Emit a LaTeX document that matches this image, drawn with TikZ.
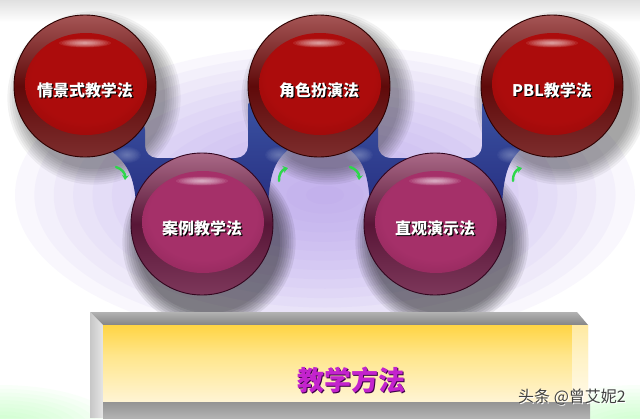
\documentclass[tikz,border=0pt]{standalone}
\usepackage{fontspec}
\newfontfamily\cjk{Noto Sans CJK SC}
\usetikzlibrary{arrows.meta}
\definecolor{rTop}{RGB}{165,85,85}
\definecolor{rMid}{RGB}{95,10,10}
\definecolor{rBot}{RGB}{125,45,45}
\definecolor{rIn}{RGB}{172,12,12}
\definecolor{rInO}{RGB}{128,6,6}
\definecolor{rRim}{RGB}{45,0,0}
\definecolor{pTop}{RGB}{170,105,135}
\definecolor{pMid}{RGB}{88,22,55}
\definecolor{pBot}{RGB}{125,55,90}
\definecolor{pIn}{RGB}{165,48,105}
\definecolor{pInO}{RGB}{122,30,75}
\definecolor{pRim}{RGB}{50,5,30}
\definecolor{blueL}{RGB}{58,82,162}
\definecolor{blueD}{RGB}{40,48,130}
\definecolor{lav}{RGB}{175,150,235}
\definecolor{arrowgreen}{RGB}{45,215,75}
\definecolor{ylwA}{RGB}{255,198,20}
\definecolor{ylwB}{RGB}{255,208,50}
\definecolor{ylwC}{RGB}{255,230,140}
\definecolor{creamA}{RGB}{255,246,220}
\definecolor{creamB}{RGB}{255,252,242}
\definecolor{titlemag}{RGB}{195,35,205}
\definecolor{titlesh}{RGB}{60,0,70}
\pgfdeclareradialshading{rinner}{\pgfpoint{0bp}{6bp}}{color(0bp)=(rIn); color(22bp)=(rIn); color(44bp)=(rInO); color(50bp)=(rInO)}
\pgfdeclareradialshading{pinner}{\pgfpoint{0bp}{6bp}}{color(0bp)=(pIn); color(22bp)=(pIn); color(44bp)=(pInO); color(50bp)=(pInO)}
\pgfdeclareverticalshading{barfront}{100bp}{color(0bp)=(creamB); color(22bp)=(creamA); color(55bp)=(ylwC); color(80bp)=(ylwB); color(100bp)=(ylwA)}
\tikzset{
  balltext/.style={font=\cjk\bfseries\fontsize{16}{16}\selectfont, inner sep=0pt},
  garrow/.style={draw=arrowgreen, line width=2.4pt, line cap=round, -{Stealth[length=5pt,width=7pt]}},
}
% soft blob made of stacked translucent ellipses: colour, x, y, rx, ry, opacity per layer, layers
\newcommand\softblob[7]{%
  \foreach \k in {1,...,#7}{\fill[#1,opacity=#6] (#2,#3) ellipse ({#4*\k/#7} and {#5*\k/#7});}}
% shadow: x, y, dx, dy, opacity per layer
\newcommand\ballshadow[5]{%
  \foreach \k in {1,...,8}{\fill[black,opacity=#5] (#1+#3,#2+#4) circle ({69+2.2*\k});}}
\newcommand\glossball[5]{%
  \node[circle,minimum size=142pt,inner sep=0pt] (#1) at (#2,#3) {};
  \shade[top color=#4Top, bottom color=#4Bot, middle color=#4Mid] (#1.center) circle (71);
  \shade[shading=#4inner] (#2+1,#3-2) ellipse (61 and 51);
  \softblob{white}{#2}{#3-43}{26}{4.5}{.09}{10}
  \draw[#4Rim,line width=.9pt] (#1.center) circle (71);
  \node[balltext,text=black] (#1-sh) at (#2+1.3,#3+5.5) {#5};
  \node[balltext,text=white] (#1-tx) at (#2,#3+4) {#5};
}
\begin{document}
\begin{tikzpicture}[x=1pt,y=-1pt]
\useasboundingbox (0,0) rectangle (640,418);
\clip (0,0) rectangle (640,418);
% background
\fill[white] (0,0) rectangle (640,418);
\softblob{lav}{325}{195}{310}{150}{.07}{16}
\shade[top color=black!12, bottom color=white] (0,0) rectangle (640,22);
\softblob{green!40!white}{0}{430}{120}{45}{.05}{12}
\softblob{green!40!white}{640}{430}{120}{45}{.05}{12}
% shadows
\ballshadow{85}{86}{9}{12}{.05}
\ballshadow{319}{86}{9}{12}{.05}
\ballshadow{552}{86}{9}{12}{.05}
\ballshadow{202}{224}{7}{18}{.075}
\ballshadow{435}{224}{7}{18}{.075}
% blue membrane
\shade[top color=blueL, bottom color=blueD]
  (108,148) .. controls (122,160) and (134,168) .. (136,205)
  -- (268,205) .. controls (270,170) and (276,160) .. (290,148)
  -- (348,148) .. controls (362,160) and (368,170) .. (370,205)
  -- (502,205) .. controls (504,170) and (510,160) .. (522,148)
  -- (488,100) -- (482,104) [rounded corners=12] -- (482,158) -- (378,158) -- (378,112) [sharp corners]
  -- (252,100) -- (248,104) [rounded corners=12] -- (248,158) -- (145,158) -- (145,118) [sharp corners]
  -- cycle;
\softblob{blueL!50!white}{127}{155}{14}{8}{.07}{10}
\softblob{blueL!50!white}{279}{155}{14}{8}{.07}{10}
\softblob{blueL!50!white}{359}{155}{14}{8}{.07}{10}
\softblob{blueL!50!white}{511}{155}{14}{8}{.07}{10}
% balls
\glossball{tl}{85}{86}{r}{情景式教学法}
\glossball{tm}{319}{86}{r}{角色扮演法}
\glossball{tr}{552}{86}{r}{PBL教学法}
\glossball{bl}{202}{224}{p}{案例教学法}
\glossball{br}{435}{224}{p}{直观演示法}
% green arrows
\coordinate (g1a) at (116,167); \coordinate (g1b) at (125,180);
\coordinate (g2a) at (279,181); \coordinate (g2b) at (288,168);
\coordinate (g3a) at (350,167); \coordinate (g3b) at (359,180);
\coordinate (g4a) at (513,181); \coordinate (g4b) at (522,168);
\draw[garrow] (g1a) to[bend left=40] (g1b);
\draw[garrow] (g2a) to[bend left=40] (g2b);
\draw[garrow] (g3a) to[bend left=40] (g3b);
\draw[garrow] (g4a) to[bend left=40] (g4b);
% bar
\shade[top color=black!30, bottom color=black!48] (90,312) -- (577,312) -- (588,325) -- (103,325) -- cycle;
\shade[left color=black!22, right color=black!10] (90,312) -- (103,325) -- (103,418) -- (90,418) -- cycle;
\shade[shading=barfront] (103,325) rectangle (588,402);
\shade[left color=ylwB!0!white, right color=white, opacity=.5] (572,325) rectangle (588,402);
\shade[top color=black!42, bottom color=black!30] (103,402) rectangle (590,418);
\node[font=\cjk\bfseries\fontsize{27}{27}\selectfont, text=titlesh, inner sep=0pt] (title-sh) at (352.5,381.5) {教学方法};
\node[font=\cjk\bfseries\fontsize{27}{27}\selectfont, text=titlemag, inner sep=0pt] (title) at (351,380) {教学方法};
% watermark
\node[font=\cjk\fontsize{16}{16}\selectfont, text=white, inner sep=0pt] (wm-sh) at (573,398) {头条 @曾艾妮2};
\node[font=\cjk\fontsize{16}{16}\selectfont, text=black!75, inner sep=0pt] (wm) at (572,397) {头条 @曾艾妮2};
\end{tikzpicture}
\end{document}
